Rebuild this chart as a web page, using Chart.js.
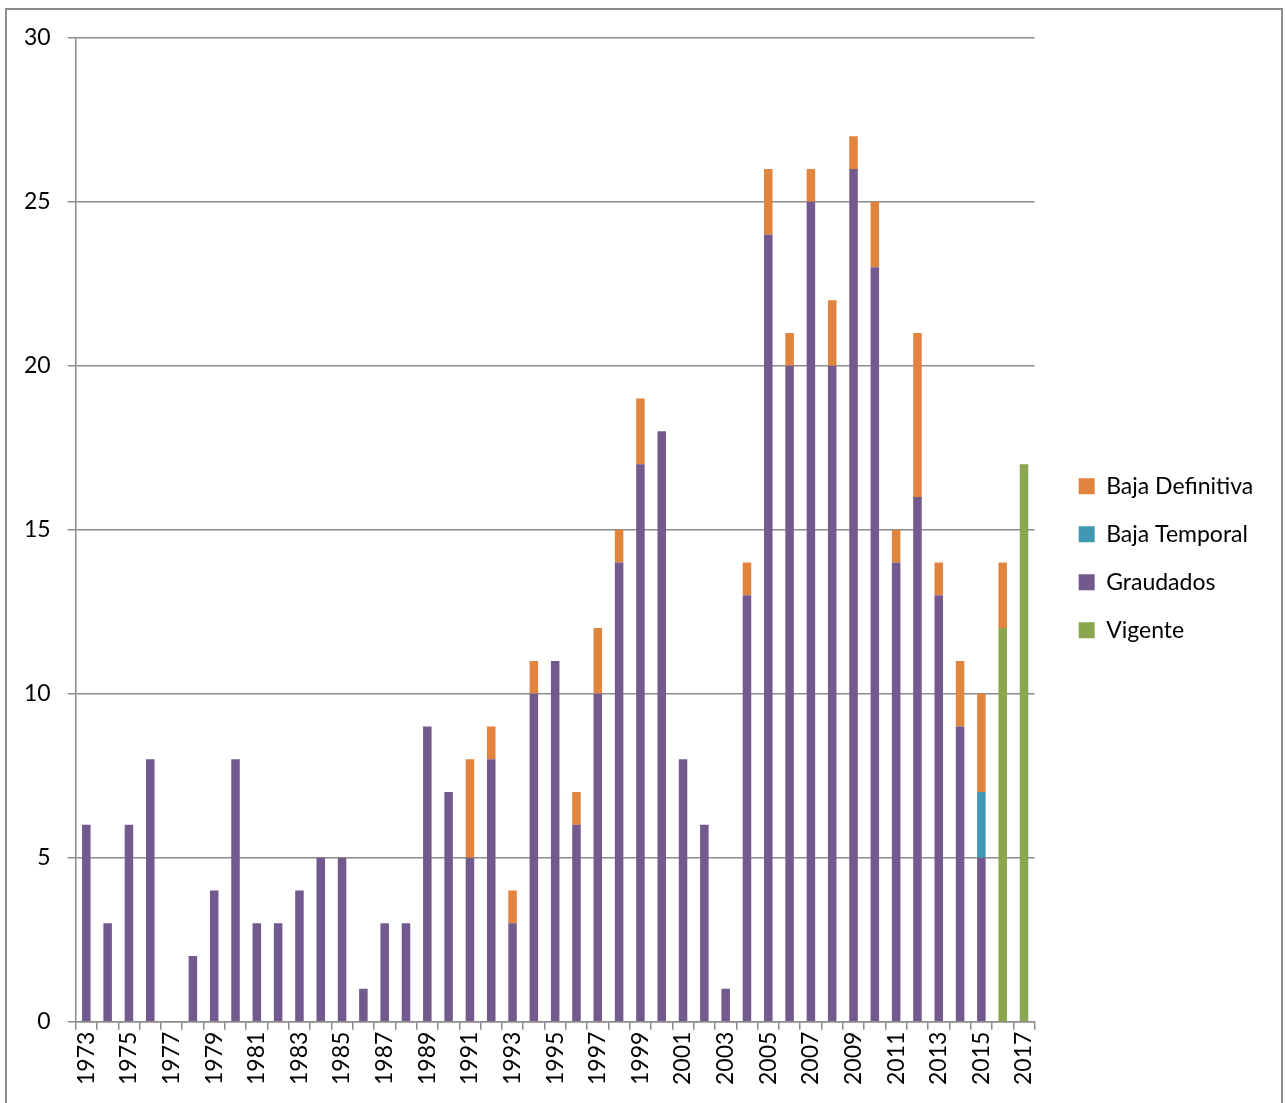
<!DOCTYPE html>
<html>
<head>
<meta charset="utf-8">
<script src="https://cdn.jsdelivr.net/npm/chart.js@4"></script>
<style>
  html, body { margin: 0; padding: 0; background: #fff; overflow: hidden; }
  #box {
    position: absolute; left: 5px; top: 8px;
    width: 1274px; height: 1110px;
    border: 2px solid #8c8c8c; border-bottom: none;
  }
  #myChart { display: block; position: relative; top: -3px; }
</style>
</head>
<body>
<div id="box"><canvas id="myChart" width="1274" height="1082"></canvas></div>
<script>
// años (categorías del eje X)
const years = [
  '1973','1974','1975','1976','1977','1978','1979','1980','1981','1982',
  '1983','1984','1985','1986','1987','1988','1989','1990','1991','1992',
  '1993','1994','1995','1996','1997','1998','1999','2000','2001','2002',
  '2003','2004','2005','2006','2007','2008','2009','2010','2011','2012',
  '2013','2014','2015','2016','2017'
];
// etiquetas visibles en el eje X (una sí, una no)
const shownYears = [
  '1973','1975','1977','1979','1981','1983','1985','1987','1989','1991','1993',
  '1995','1997','1999','2001','2003','2005','2007','2009','2011','2013','2015','2017'
];
const yTicks = [0, 5, 10, 15, 20, 25, 30];

// series
const vigente = [
  0,0,0,0,0,0,0,0,0,0,
  0,0,0,0,0,0,0,0,0,0,
  0,0,0,0,0,0,0,0,0,0,
  0,0,0,0,0,0,0,0,0,0,
  0,0,0,12,17
];
const graudados = [
  6,3,6,8,0,2,4,8,3,3,
  4,5,5,1,3,3,9,7,5,8,
  3,10,11,6,10,14,17,18,8,6,
  1,13,24,20,25,20,26,23,14,16,
  13,9,5,0,0
];
const bajaTemporal = [
  0,0,0,0,0,0,0,0,0,0,
  0,0,0,0,0,0,0,0,0,0,
  0,0,0,0,0,0,0,0,0,0,
  0,0,0,0,0,0,0,0,0,0,
  0,0,2,0,0
];
const bajaDefinitiva = [
  0,0,0,0,0,0,0,0,0,0,
  0,0,0,0,0,0,0,0,3,1,
  1,1,0,1,2,1,2,0,0,0,
  0,1,2,1,1,2,1,2,1,5,
  1,2,3,2,0
];

const fontFamily = 'Lato, "Open Sans", sans-serif';
const gridColor = '#8c8c8c';

const chartCanvas = document.getElementById('myChart');

new Chart(chartCanvas, {
  type: 'bar',
  data: {
    labels: years,
    datasets: [
      { label: 'Vigente', data: vigente, backgroundColor: '#8aa64e' },
      { label: 'Graudados', data: graudados, backgroundColor: '#725a8f' },
      { label: 'Baja Temporal', data: bajaTemporal, backgroundColor: '#4198b2' },
      { label: 'Baja Definitiva', data: bajaDefinitiva, backgroundColor: '#e0843e' }
    ]
  },
  options: {
    responsive: false,
    animation: false,
    datasets: { bar: { barPercentage: 0.4, categoryPercentage: 1.0, borderWidth: 0 } },
    layout: { padding: { left: 0, top: 11, right: 18, bottom: 2 } },
    plugins: {
      tooltip: { enabled: false },
      legend: {
        position: 'right',
        reverse: true,
        // título vacío: baja un poco los elementos de la leyenda
        title: { display: true, text: ' ', font: { size: 8 }, padding: 1 },
        labels: {
          color: '#000',
          font: { family: fontFamily, size: 23 },
          boxWidth: 16,
          boxHeight: 16,
          padding: 25
        }
      }
    },
    scales: {
      x: {
        stacked: true,
        grid: {
          offset: true,
          drawOnChartArea: false,
          drawTicks: true,
          tickLength: 8,
          color: gridColor,
          lineWidth: 1.5
        },
        border: { color: gridColor, width: 1.5 },
        ticks: {
          autoSkip: false,
          minRotation: 90,
          maxRotation: 90,
          padding: 2,
          color: '#000',
          font: { family: fontFamily, size: 23 },
          callback: function (value, index) {
            const lbl = years[index];
            return shownYears.includes(lbl) ? lbl : '';
          }
        }
      },
      y: {
        stacked: true,
        min: 0,
        max: 30,
        afterBuildTicks: axis => { axis.ticks = yTicks.map(v => ({ value: v })); },
        grid: {
          color: gridColor,
          lineWidth: 1.5,
          tickLength: 8
        },
        border: { color: gridColor, width: 1.5 },
        ticks: {
          padding: 17,
          color: '#000',
          font: { family: fontFamily, size: 23 }
        }
      },
      // eje vacío: solo deja espacio entre el gráfico y la leyenda
      gap: {
        type: 'linear',
        position: 'right',
        display: true,
        grid: { display: false },
        border: { display: false },
        ticks: { display: false },
        afterFit: axis => { axis.width = 19; }
      }
    }
  }
});
</script>
</body>
</html>
